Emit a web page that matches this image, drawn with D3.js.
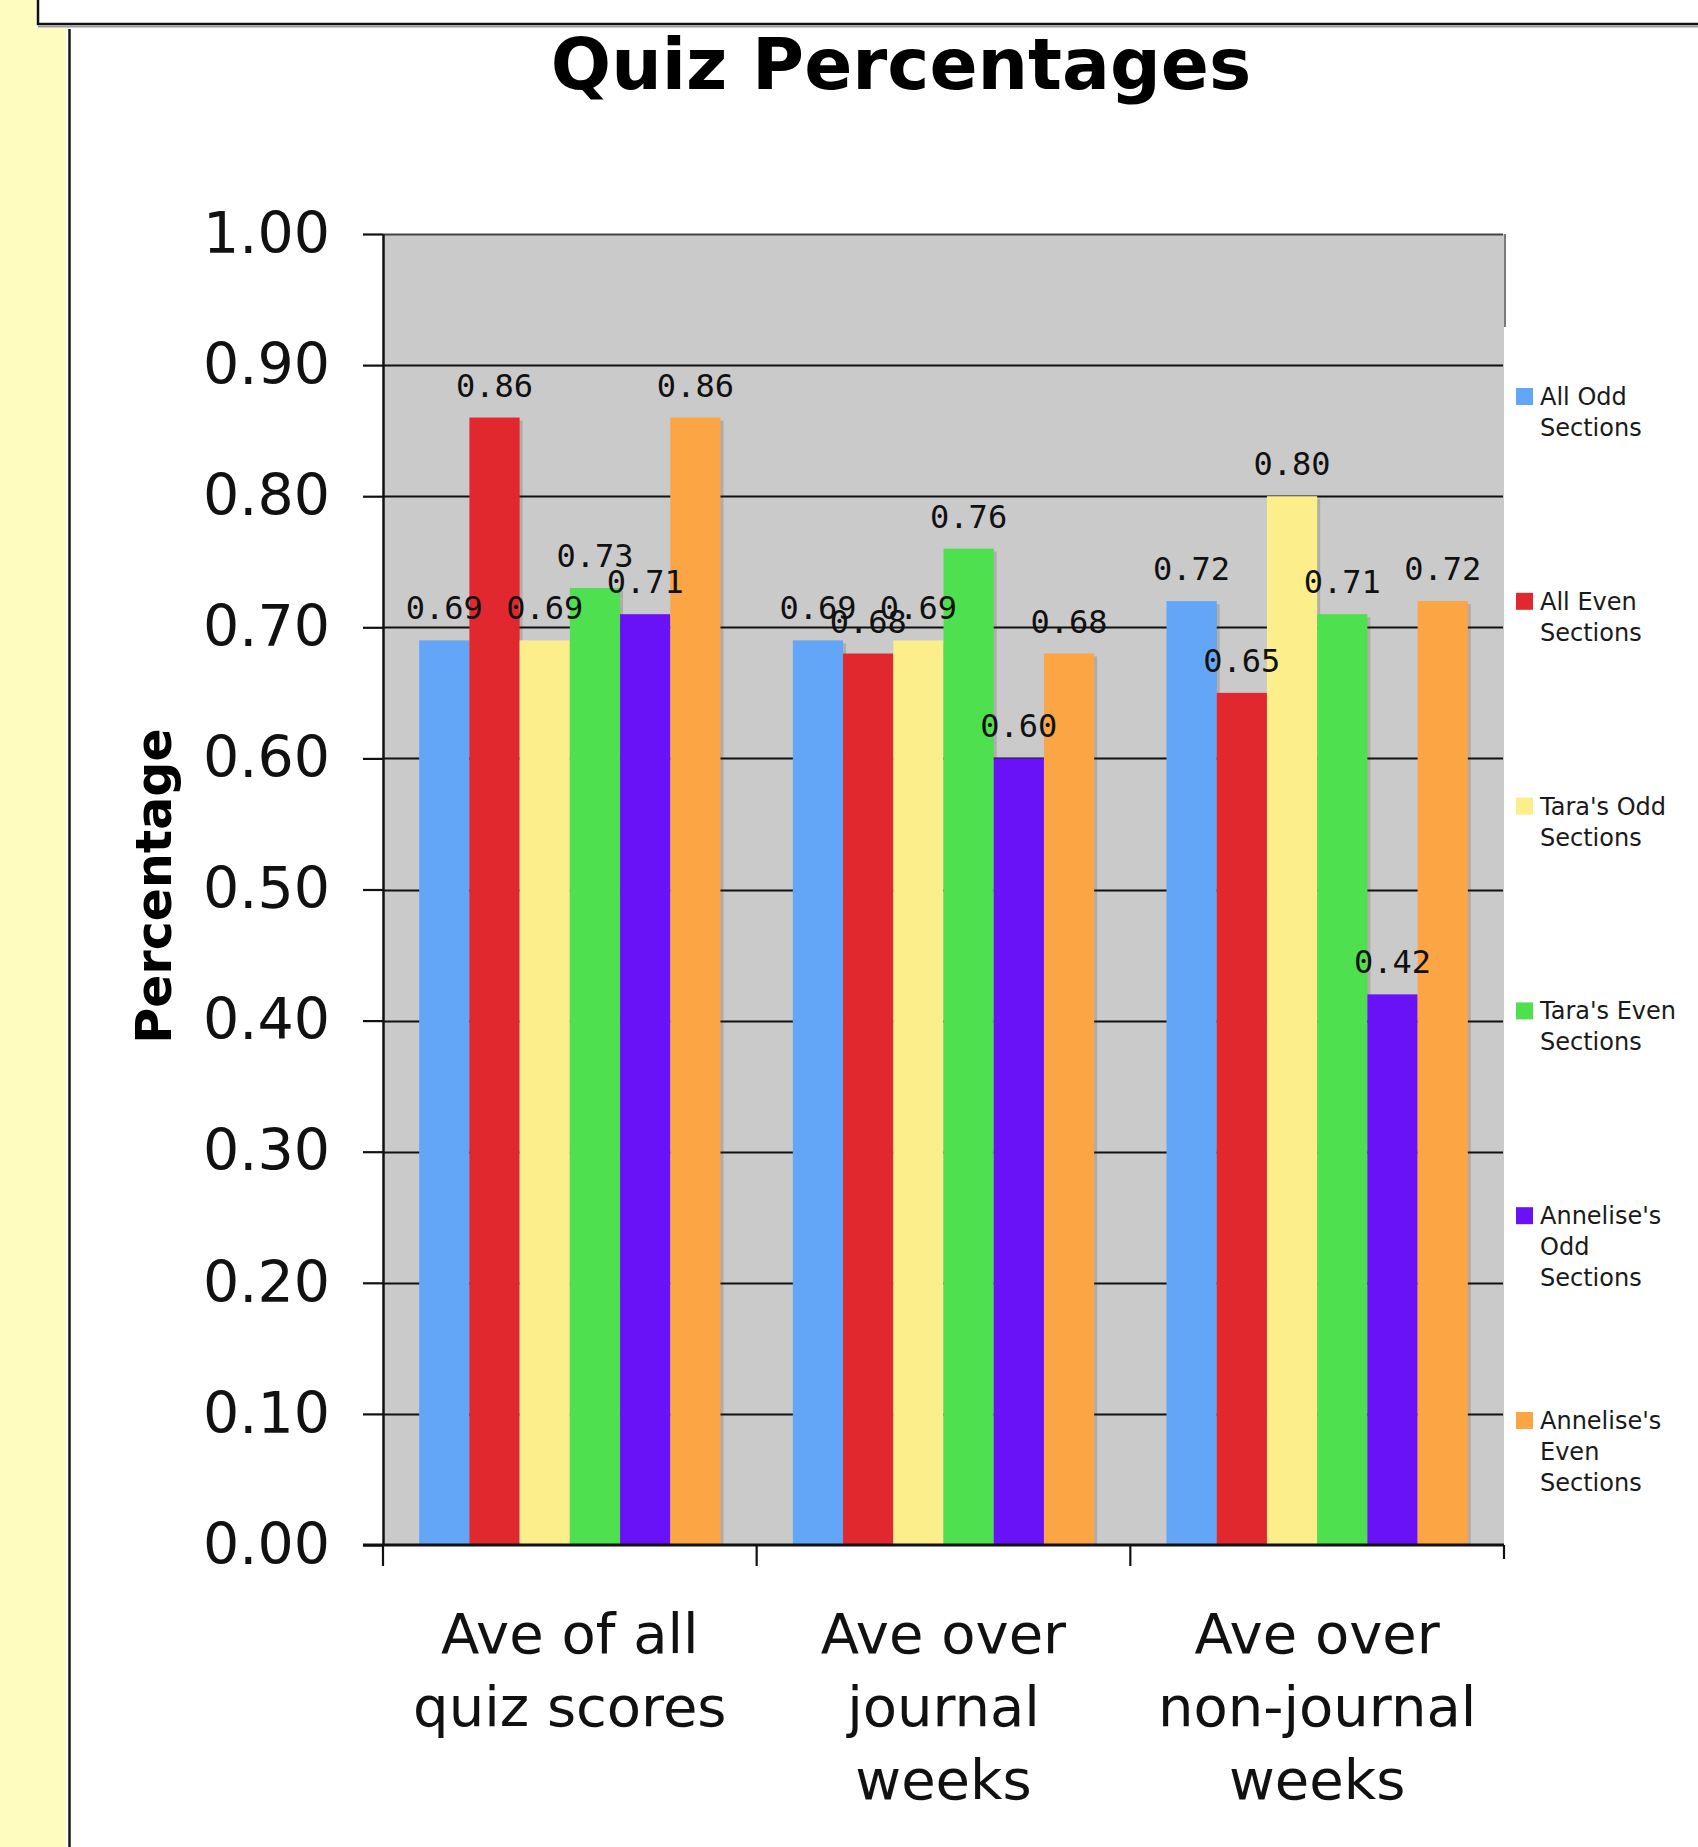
<!DOCTYPE html>
<html>
<head>
<meta charset="utf-8">
<title>Quiz Percentages</title>
<script src="https://cdn.jsdelivr.net/npm/d3@7"></script>
<style>
  html, body { margin: 0; padding: 0; background: #ffffff; }
  svg { display: block; }
</style>
</head>
<body>
<svg id="chart" width="1698" height="1847"></svg>
<script>
// ---- data ----
const categories = ["Ave of all quiz scores", "Ave over journal weeks", "Ave over non-journal weeks"];
const categoryLabelLines = [
  ["Ave of all", "quiz scores"],
  ["Ave over", "journal", "weeks"],
  ["Ave over", "non-journal", "weeks"]
];
const seriesNames = [
  "All Odd Sections", "All Even Sections", "Tara's Odd Sections",
  "Tara's Even Sections", "Annelise's Odd Sections", "Annelise's Even Sections"
];
const legendLabelLines = [
  ["All Odd", "Sections"],
  ["All Even", "Sections"],
  ["Tara's Odd", "Sections"],
  ["Tara's Even", "Sections"],
  ["Annelise's", "Odd", "Sections"],
  ["Annelise's", "Even", "Sections"]
];
const allOdd        = [0.69, 0.69, 0.72];
const allEven       = [0.86, 0.68, 0.65];
const tarasOdd      = [0.69, 0.69, 0.80];
const tarasEven     = [0.73, 0.76, 0.71];
const annelisesOdd  = [0.71, 0.60, 0.42];
const annelisesEven = [0.86, 0.68, 0.72];
const seriesValues = [allOdd, allEven, tarasOdd, tarasEven, annelisesOdd, annelisesEven];
const yTickValues = [0, 0.1, 0.2, 0.3, 0.4, 0.5, 0.6, 0.7, 0.8, 0.9, 1.0];

// ---- styling ----
const seriesColors = ["#63a5f6", "#e1282f", "#fcee8a", "#4ee04f", "#6912f8", "#fca544"];
const plotFill = "#cacaca";
const pageYellow = "#fffcc0";

const svg = d3.select("#chart");

// ---- page frame: yellow margin, header box and rule ----
svg.append("rect").attr("x", 0).attr("y", 0).attr("width", 36).attr("height", 28).attr("fill", pageYellow);
svg.append("rect").attr("x", 0).attr("y", 28).attr("width", 66).attr("height", 1847 - 28).attr("fill", pageYellow);
svg.append("rect").attr("x", 38).attr("y", -10).attr("width", 1700).attr("height", 34)
  .attr("fill", "#ffffff").attr("stroke", "#111").attr("stroke-width", 2.5);
svg.append("line").attr("x1", 38).attr("x2", 1698).attr("y1", 26.5).attr("y2", 26.5)
  .attr("stroke", "#9a9a9a").attr("stroke-width", 2);
svg.append("line").attr("x1", 69.5).attr("x2", 69.5).attr("y1", 29).attr("y2", 1847)
  .attr("stroke", "#1a1a1a").attr("stroke-width", 2.5);

// ---- scales ----
const plot = { left: 383, right: 1504, top: 234, bottom: 1545 };
const y = d3.scaleLinear().domain([0, 1]).range([plot.bottom, plot.top]);
const x0 = d3.scaleBand().domain(categories).range([plot.left, plot.right]).paddingInner(0).paddingOuter(0);
const x1 = d3.scaleBand().domain(seriesNames).range([0, x0.bandwidth()]).paddingInner(0).paddingOuter(0.72);

// ---- plot area ----
svg.append("rect")
  .attr("x", plot.left).attr("y", plot.top)
  .attr("width", plot.right - plot.left).attr("height", plot.bottom - plot.top)
  .attr("fill", plotFill);

// horizontal gridlines behind the bars
svg.append("g").selectAll("line")
  .data(yTickValues.filter(d => d > 0))
  .join("line")
  .attr("x1", plot.left).attr("x2", plot.right - 1)
  .attr("y1", d => Math.round(y(d)) + 0.5).attr("y2", d => Math.round(y(d)) + 0.5)
  .attr("stroke", d => d === 1 ? "#444" : "#111")
  .attr("stroke-width", 2.2);

// right border of the plot, visible above the legend panel
svg.append("line").attr("x1", plot.right + 1).attr("x2", plot.right + 1)
  .attr("y1", plot.top).attr("y2", 327)
  .attr("stroke", "#7a7a7a").attr("stroke-width", 2);

// ---- bars ----
const rows = [];
categories.forEach((c, ci) => {
  seriesNames.forEach((s, si) => {
    rows.push({ category: c, series: s, value: seriesValues[si][ci], color: seriesColors[si] });
  });
});

const barGroup = svg.append("g");
// soft drop shadow to the right of each bar
barGroup.selectAll("rect.shadow")
  .data(rows)
  .join("rect")
  .attr("class", "shadow")
  .attr("x", d => x0(d.category) + x1(d.series) + 3)
  .attr("y", d => y(d.value) + 3)
  .attr("width", x1.bandwidth())
  .attr("height", d => y(0) - y(d.value) - 3)
  .attr("fill", "rgba(60,40,20,0.18)");

barGroup.selectAll("rect.bar")
  .data(rows)
  .join("rect")
  .attr("class", "bar")
  .attr("x", d => x0(d.category) + x1(d.series))
  .attr("y", d => y(d.value))
  .attr("width", x1.bandwidth())
  .attr("height", d => y(0) - y(d.value))
  .attr("fill", d => d.color);

// ---- axes ----
const yAxis = d3.axisLeft(y)
  .tickValues(yTickValues)
  .tickFormat(d3.format(".2f"))
  .tickSizeInner(20)
  .tickSizeOuter(0)
  .tickPadding(33);

const yAxisG = svg.append("g")
  .attr("transform", `translate(${plot.left},0)`)
  .call(yAxis);
yAxisG.select(".domain").attr("stroke", "#111").attr("stroke-width", 2.5);
yAxisG.selectAll(".tick line").attr("stroke", "#111").attr("stroke-width", 2.2);
yAxisG.selectAll(".tick text")
  .attr("fill", "#111")
  .style("font-family", "'DejaVu Sans', Verdana, sans-serif")
  .style("font-size", "57px");

// bottom axis: baseline plus ticks on category boundaries
const bottomG = svg.append("g");
bottomG.append("line")
  .attr("x1", plot.left - 20).attr("x2", plot.right)
  .attr("y1", y(0)).attr("y2", y(0))
  .attr("stroke", "#111").attr("stroke-width", 3);
const boundaries = categories.map(c => x0(c)).concat([x0(categories[categories.length - 1]) + x0.bandwidth()]);
bottomG.selectAll("line.tick")
  .data(boundaries)
  .join("line")
  .attr("class", "tick")
  .attr("x1", d => d).attr("x2", d => d)
  .attr("y1", y(0)).attr("y2", (d, i) => i === boundaries.length - 1 ? y(0) + 14 : y(0) + 21)
  .attr("stroke", "#111").attr("stroke-width", 2.2);

// category labels
const catText = svg.append("g").selectAll("text")
  .data(categories)
  .join("text")
  .attr("text-anchor", "middle")
  .attr("fill", "#111")
  .style("font-family", "'DejaVu Sans', Verdana, sans-serif")
  .style("font-size", "56px");
catText.selectAll("tspan")
  .data((d, i) => categoryLabelLines[i].map(line => ({ line, cat: d })))
  .join("tspan")
  .attr("x", d => x0(d.cat) + x0.bandwidth() / 2)
  .attr("y", (d, i) => 1653 + i * 73)
  .text(d => d.line);

// ---- value labels ----
svg.append("g").selectAll("text")
  .data(rows)
  .join("text")
  .attr("x", d => x0(d.category) + x1(d.series) + x1.bandwidth() / 2)
  .attr("y", d => y(d.value) - 21)
  .attr("text-anchor", "middle")
  .attr("fill", "#111")
  .style("font-family", "'DejaVu Sans Mono', monospace")
  .style("font-size", "32px")
  .text(d => d3.format(".2f")(d.value));

// ---- legend panel ----
svg.append("rect")
  .attr("x", plot.right + 0.5).attr("y", 327)
  .attr("width", 1698 - plot.right).attr("height", plot.bottom - 327 - 1.5)
  .attr("fill", "#ffffff");

const legend = svg.append("g").selectAll("g")
  .data(seriesNames)
  .join("g")
  .attr("transform", (d, i) => `translate(1516,${405 + i * 204.8})`);
legend.append("rect")
  .attr("x", 0).attr("y", -17)
  .attr("width", 17).attr("height", 17)
  .attr("fill", (d, i) => seriesColors[i]);
legend.append("text")
  .attr("fill", "#1a1a1a")
  .style("font-family", "'DejaVu Sans', Verdana, sans-serif")
  .style("font-size", "24px")
  .selectAll("tspan")
  .data((d, i) => legendLabelLines[i])
  .join("tspan")
  .attr("x", 24)
  .attr("y", (d, i) => i * 31)
  .text(d => d);

// ---- titles ----
svg.append("text")
  .attr("x", 901).attr("y", 89)
  .attr("text-anchor", "middle")
  .attr("fill", "#000")
  .style("font-family", "'DejaVu Sans', Verdana, sans-serif")
  .style("font-weight", "bold")
  .style("font-size", "71px")
  .text("Quiz Percentages");

svg.append("text")
  .attr("transform", "translate(171,886) rotate(-90)")
  .attr("text-anchor", "middle")
  .attr("fill", "#000")
  .style("font-family", "'DejaVu Sans', Verdana, sans-serif")
  .style("font-weight", "bold")
  .style("font-size", "49px")
  .text("Percentage");
</script>
</body>
</html>
